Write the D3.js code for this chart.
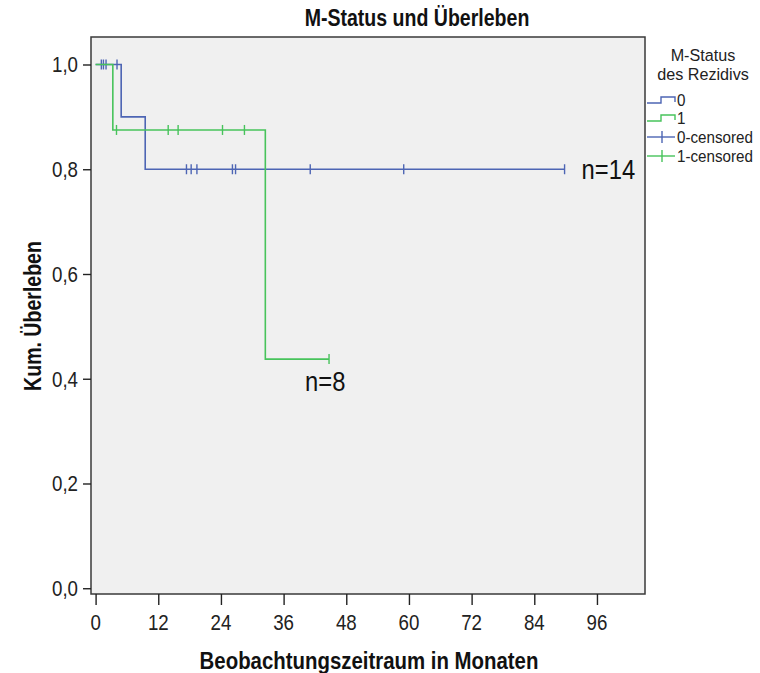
<!DOCTYPE html>
<html>
<head>
<meta charset="utf-8">
<script src="https://cdn.jsdelivr.net/npm/d3@7"></script>
<style>
  html, body { margin: 0; padding: 0; background: #ffffff; }
  svg { display: block; }
  text { font-family: "Liberation Sans", Arial, sans-serif; }
</style>
</head>
<body>
<svg id="chart" width="760" height="673"></svg>
<script>
// Survival data per M-status group (months; event 1 = death, 0 = censored)
const groupNames = ["0", "1"];
const groupSizes = [14, 8];
const times0  = [1.1, 1.5, 2.0, 4.1, 4.9, 9.5, 17.4, 18.3, 19.4, 26.2, 26.8, 41.1, 59.0, 89.8];
const events0 = [0,   0,   0,   0,   1,   1,   0,    0,    0,    0,    0,    0,    0,    0];
const times1  = [3.3, 4.0, 13.9, 15.8, 24.3, 28.5, 32.5, 44.7];
const events1 = [1,   0,   0,    0,    0,    0,    1,    0];

const xTicks = [0, 12, 24, 36, 48, 60, 72, 84, 96];
const yTicks = [0, 0.2, 0.4, 0.6, 0.8, 1.0];
const legendLabels = ["0", "1", "0-censored", "1-censored"];
const colors = ["#4d65b4", "#47c35b"];

const svg = d3.select("#chart");

function label(g, x, y, str, opts) {
  const o = Object.assign({ size: 22, anchor: "start", weight: "normal", fill: "#222", rotate: 0, sx: 0.85 }, opts || {});
  const t = g.append("g").attr("transform", `translate(${x},${y}) rotate(${o.rotate}) scale(${o.sx},1)`);
  t.append("text")
    .attr("text-anchor", o.anchor)
    .attr("font-size", o.size)
    .attr("font-weight", o.weight)
    .attr("fill", o.fill)
    .text(str);
  return t;
}

// Plot frame geometry
const frameL = 91, frameR = 645, frameT = 37, frameB = 594;
const x = d3.scaleLinear().domain([-0.88, 105.2]).range([frameL, frameR]);
const y = d3.scaleLinear().domain([-0.011, 1.0525]).range([frameB, frameT]);

svg.append("rect")
  .attr("x", frameL).attr("y", frameT)
  .attr("width", frameR - frameL).attr("height", frameB - frameT)
  .attr("fill", "#f0f0f0")
  .attr("stroke", "#3a3a3a").attr("stroke-width", 1.5);

// Axes
const fmt = d3.format(".1f");
const yAxis = svg.append("g").attr("transform", `translate(${frameL},0)`)
  .call(d3.axisLeft(y).tickValues(yTicks).tickSize(8).tickFormat(() => ""));
const xAxis = svg.append("g").attr("transform", `translate(0,${frameB})`)
  .call(d3.axisBottom(x).tickValues(xTicks).tickSize(11).tickFormat(() => ""));
[yAxis, xAxis].forEach(a => {
  a.select(".domain").remove();
  a.selectAll(".tick line").attr("stroke", "#222").attr("stroke-width", 1.4);
});
yTicks.forEach(v => label(svg, frameL - 13, y(v) + 8, fmt(v).replace(".", ","), { anchor: "end" }));
xTicks.forEach(v => label(svg, x(v), frameB + 36, String(v), { anchor: "middle" }));

// Kaplan-Meier estimate
function km(times, events) {
  const idx = d3.range(times.length).sort((a, b) => times[a] - times[b]);
  let atRisk = times.length, s = 1;
  const steps = [[0, 1]], censored = [];
  idx.forEach(i => {
    if (events[i] === 1) { s = s * (atRisk - 1) / atRisk; steps.push([times[i], s]); }
    else censored.push([times[i], s]);
    atRisk -= 1;
  });
  const last = d3.max(times);
  steps.push([last, s]);
  return { steps, censored, last, s };
}

const curves = [km(times0, events0), km(times1, events1)];
const line = d3.line().x(d => x(d[0])).y(d => y(d[1])).curve(d3.curveStepAfter);

curves.forEach((c, i) => {
  const g = svg.append("g");
  g.append("path").attr("d", line(c.steps))
    .attr("fill", "none").attr("stroke", colors[i]).attr("stroke-width", 1.6);
  g.selectAll("line.cens").data(c.censored).enter().append("line")
    .attr("x1", d => x(d[0])).attr("x2", d => x(d[0]))
    .attr("y1", d => y(d[1]) - 5).attr("y2", d => y(d[1]) + 5)
    .attr("stroke", colors[i]).attr("stroke-width", 1.4);
});

// Group size annotations at the ends of the curves
label(svg, x(curves[0].last) + 17, y(curves[0].s) + 10, "n=" + groupSizes[0], { size: 28, fill: "#111" });
label(svg, x(curves[1].last) - 24, y(curves[1].s) + 32, "n=" + groupSizes[1], { size: 28, fill: "#111" });

// Titles
label(svg, 417, 26, "M-Status und Überleben", { size: 23, weight: "bold", anchor: "middle", fill: "#111" });
label(svg, 369, 669, "Beobachtungszeitraum in Monaten", { size: 24, weight: "bold", anchor: "middle", fill: "#111" });
label(svg, 41, 316, "Kum. Überleben", { size: 23, weight: "bold", anchor: "middle", fill: "#111", rotate: -90 });

// Legend
const lg = svg.append("g");
label(lg, 703, 61, "M-Status", { size: 16.5, anchor: "middle", sx: 0.98 });
label(lg, 703, 80, "des Rezidivs", { size: 16.5, anchor: "middle", sx: 0.98 });
const legY = [100, 118, 137, 156];
legendLabels.forEach((lab, i) => {
  const cy = legY[i];
  const col = colors[i % 2];
  if (i < 2) {
    lg.append("path")
      .attr("d", `M647,${cy + 3}H661V${cy - 3}H675V${cy + 2}`)
      .attr("fill", "none").attr("stroke", col).attr("stroke-width", 1.4);
  } else {
    lg.append("line").attr("x1", 647).attr("x2", 675).attr("y1", cy).attr("y2", cy)
      .attr("stroke", col).attr("stroke-width", 1.4);
    lg.append("line").attr("x1", 662).attr("x2", 662).attr("y1", cy - 6).attr("y2", cy + 6)
      .attr("stroke", col).attr("stroke-width", 1.4);
  }
  label(lg, 677, cy + 6, lab, { size: 16, sx: 0.95 });
});
</script>
</body>
</html>
